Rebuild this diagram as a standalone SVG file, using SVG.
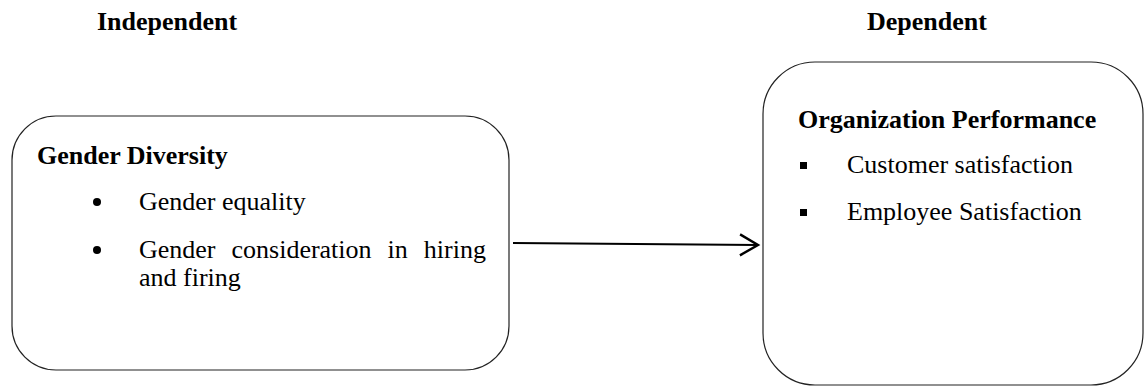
<svg xmlns="http://www.w3.org/2000/svg" width="1144" height="387" viewBox="0 0 1144 387">
<style>
.t{font-family:"Liberation Serif","Times New Roman",serif;font-size:26px;fill:#000}
.b{font-weight:bold}
.box{fill:#fff;stroke:#222;stroke-width:1.2}
.conn{stroke:#000;stroke-width:2.2;fill:none}
</style>
<defs>
<marker id="arr" markerWidth="24" markerHeight="26" refX="20" refY="12" orient="auto" markerUnits="userSpaceOnUse">
<path d="M2,1.5 L20,12 L2,22.5" fill="none" stroke="#000" stroke-width="2.4"/>
</marker>
</defs>
<rect width="1144" height="387" fill="#fff"/>
<text class="t b" x="97" y="30">Independent</text>
<text class="t b" x="867" y="30">Dependent</text>
<g id="independent">
<rect class="box" x="12" y="116" width="497" height="254" rx="44"/>
<text class="t b" x="37" y="164">Gender Diversity</text>
<circle cx="97" cy="202" r="4"/>
<text class="t" x="139" y="210">Gender equality</text>
<circle cx="97" cy="250" r="4"/>
<text class="t" y="258"><tspan x="139">Gender</tspan><tspan x="231.5">consideration</tspan><tspan x="387.6">in</tspan><tspan x="423.8">hiring</tspan></text>
<text class="t" x="139" y="286">and firing</text>
</g>
<g id="dependent">
<rect class="box" x="763" y="62" width="380" height="323" rx="52"/>
<text class="t b" x="798" y="128">Organization Performance</text>
<rect x="800" y="162" width="7" height="7"/>
<text class="t" x="847" y="173">Customer satisfaction</text>
<rect x="800" y="209" width="7" height="7"/>
<text class="t" x="847" y="220">Employee Satisfaction</text>
</g>
<g id="connectors">
<path class="conn" d="M513,243 L758,245" marker-end="url(#arr)"/>
</g>
</svg>
